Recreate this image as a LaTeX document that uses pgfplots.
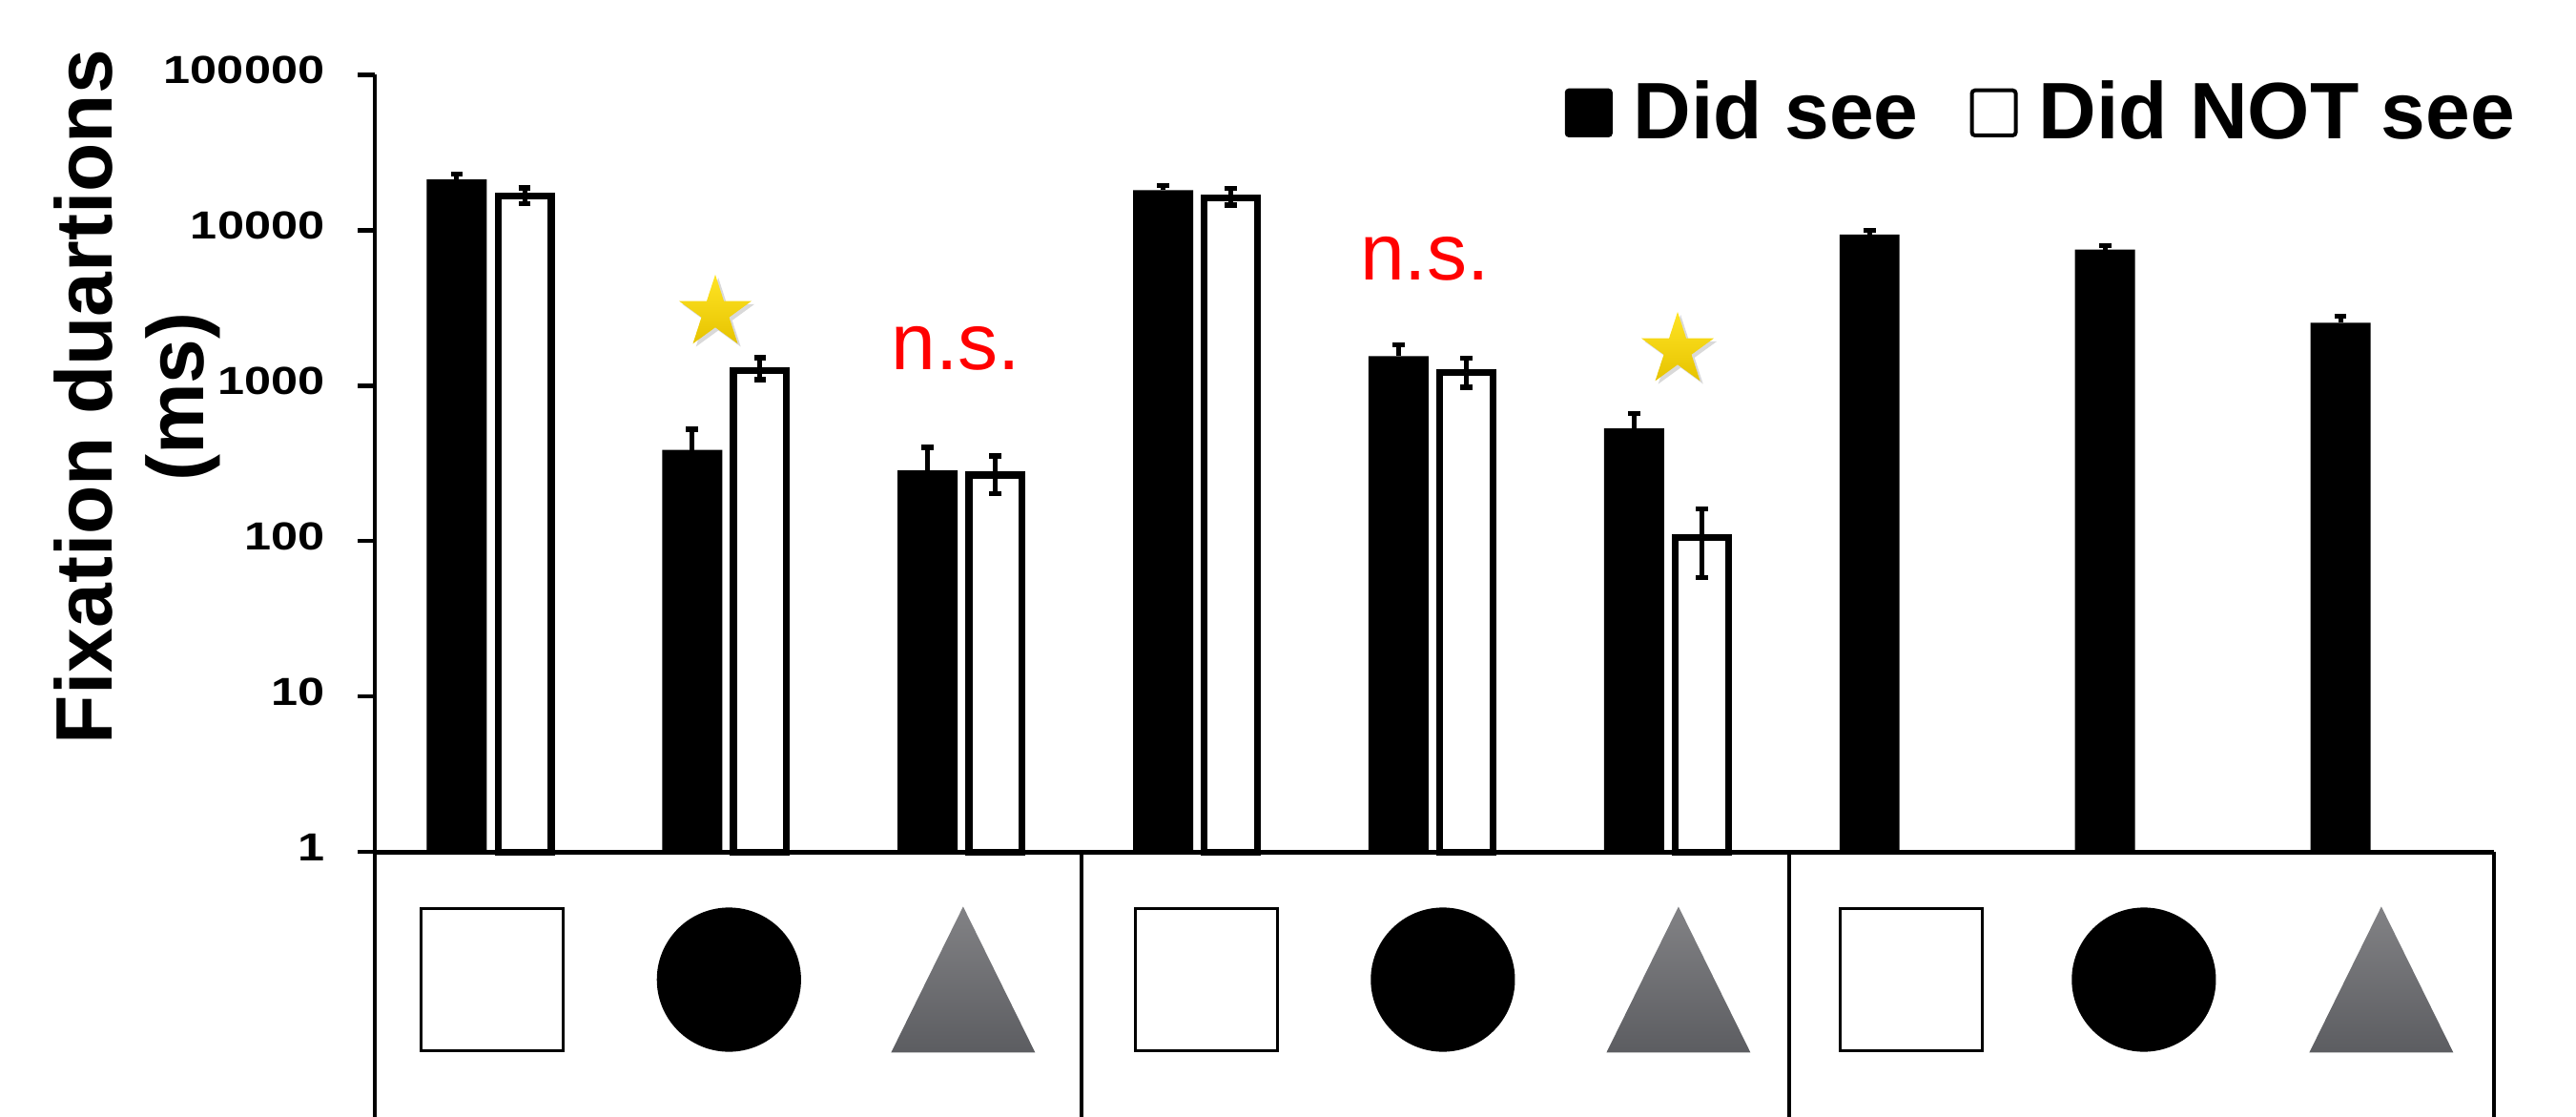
\documentclass[border=0pt]{standalone}
\usepackage{graphicx}
\usepackage{pgfplots}
\usepackage{pgfplotstable}
\pgfplotsset{compat=1.18}
\usepackage{fontspec}
\setmainfont{Liberation Sans}
\usetikzlibrary{shapes.geometric,shadows}

\definecolor{tritop}{HTML}{828285}
\definecolor{tribot}{HTML}{5C5D61}
\definecolor{startop}{HTML}{FFE424}
\definecolor{starbot}{HTML}{E6C300}
\definecolor{nsred}{HTML}{FF0000}

\newcommand\tl[1]{\scalebox{1.23}[1]{#1}}

\pgfplotstableread{
x y e
0 21200 1700
1 386 139
2 285 116
3 18100 1400
4 1550 278
5 531 128
6 9370 580
7 7500 440
8 2543 247
}\didsee

\pgfplotstableread{
x y ep em
0 16600 2100 1700
1 1250 263 156
2 266 87 65
3 16200 2300 1700
4 1215 285 238
5 105 56 47
}\didnotsee

\begin{document}
\begin{tikzpicture}
\path[use as bounding box] (0,0) rectangle (675.25pt,292.5pt);
\begin{axis}[
  at={(98.25pt,69.2pt)}, anchor=south west,
  scale only axis, width=555.5pt, height=203.7pt,
  ymode=log, ymin=1, ymax=100000,
  xmin=-0.5, xmax=8.5, enlargelimits=false,
  clip=false,
  axis x line*=bottom, axis y line*=left,
  axis line style={-, line width=1.15pt},
  xtick=\empty,
  ytick={1,10,100,1000,10000,100000},
  yticklabels={\tl{1},\tl{10},\tl{100},\tl{1000},\tl{10000},\tl{100000}},
  yminorticks=false,
  tick align=outside, major tick length=4.5pt,
  ytick style={line width=1.1pt, black},
  yticklabel style={font=\fontsize{10.25}{12}\selectfont\bfseries, inner sep=0pt, xshift=-8.5pt, yshift=1.2pt},
  ybar,
  legend columns=2,
  legend style={at={(0.5612,0.951)}, anchor=west, draw=none, fill=none,
    inner xsep=0pt, inner ysep=0pt,
    nodes={inner sep=0pt},
    font=\fontsize{21}{24}\selectfont\bfseries,
    /tikz/every odd column/.append style={column sep=5.5pt},
    /tikz/every even column/.append style={column sep=13.5pt}},
]
\addplot[fill=black, draw=none, bar width=0.255, bar shift=-0.152,
  legend image code/.code={\fill[black, rounded corners=1pt] (0pt,-6.4pt) rectangle (12.5pt,6.4pt);},
  error bars/.cd, y dir=plus, y explicit, error mark=|,
  error bar style={line width=1.25pt, draw=black, solid},
  error mark options={line width=1.3pt, mark size=1.6pt, draw=black, solid}]
  table[x=x, y=y, y error=e] {\didsee};
\addlegendentry{Did see}
\addplot[fill=white, draw=black, line width=1.8pt, bar width=0.226, bar shift=0.136,
  legend image code/.code={\draw[black, line width=1pt, fill=white, rounded corners=0.8pt] (0.5pt,-5.9pt) rectangle (12pt,5.9pt);},
  error bars/.cd, y dir=both, y explicit, error mark=-,
  error bar style={line width=1.25pt, draw=black, solid},
  error mark options={rotate=90, line width=1.3pt, mark size=1.6pt, draw=black, solid}]
  table[x=x, y=y, y error plus=ep, y error minus=em] {\didnotsee};
\addlegendentry{Did NOT see}

% significance marks
\node[star, star points=5, star point ratio=2.618, minimum size=20pt, inner sep=0pt,
  top color=startop, bottom color=starbot, draw=none,
  drop shadow={opacity=0.3, shadow xshift=0.8pt, shadow yshift=-0.8pt, fill=gray}]
  at (axis cs:0.946,2943) {};
\node[star, star points=5, star point ratio=2.618, minimum size=20pt, inner sep=0pt,
  top color=startop, bottom color=starbot, draw=none,
  drop shadow={opacity=0.3, shadow xshift=0.8pt, shadow yshift=-0.8pt, fill=gray}]
  at (axis cs:5.033,1695) {};
\node[anchor=base, text=nsred, font=\fontsize{21}{24}\selectfont, inner sep=0pt] at (axis cs:1.967,1277) {n.s.};
\node[anchor=base, text=nsred, font=\fontsize{21}{24}\selectfont, inner sep=0pt] at (axis cs:3.959,4800) {n.s.};

% category panel separators
\draw[line width=1.15pt] (rel axis cs:0,0) -- ++(0pt,-70pt);
\draw[line width=1.15pt] (rel axis cs:0.3335,0) -- ++(0pt,-70pt);
\draw[line width=1.15pt] (rel axis cs:0.6675,0) -- ++(0pt,-70pt);
\draw[line width=1.15pt] (rel axis cs:1,0) -- ++(0pt,-70pt);

% category icons
\node[draw=black, line width=0.75pt, fill=white, minimum size=37.25pt, inner sep=0pt] at (axis cs:0,0.151) {};
\fill[black] (axis cs:1.004,0.151) circle (18.9pt);
\shade[top color=tritop, bottom color=tribot] (axis cs:1.999,0.151) ++(-18.9pt,-19.1pt) -- ++(37.75pt,0pt) -- ++(-18.875pt,38.25pt) -- cycle;
\node[draw=black, line width=0.75pt, fill=white, minimum size=37.25pt, inner sep=0pt] at (axis cs:3.032,0.151) {};
\fill[black] (axis cs:4.036,0.151) circle (18.9pt);
\shade[top color=tritop, bottom color=tribot] (axis cs:5.037,0.151) ++(-18.9pt,-19.1pt) -- ++(37.75pt,0pt) -- ++(-18.875pt,38.25pt) -- cycle;
\node[draw=black, line width=0.75pt, fill=white, minimum size=37.25pt, inner sep=0pt] at (axis cs:6.025,0.151) {};
\fill[black] (axis cs:7.013,0.151) circle (18.9pt);
\shade[top color=tritop, bottom color=tribot] (axis cs:8.022,0.151) ++(-18.9pt,-19.1pt) -- ++(37.75pt,0pt) -- ++(-18.875pt,38.25pt) -- cycle;
\end{axis}
\node[rotate=90, align=center, font=\fontsize{21}{24}\selectfont\bfseries, inner sep=0pt]
  at (35.9pt,188.5pt) {Fixation duartions\\(ms)};
\end{tikzpicture}
\end{document}
